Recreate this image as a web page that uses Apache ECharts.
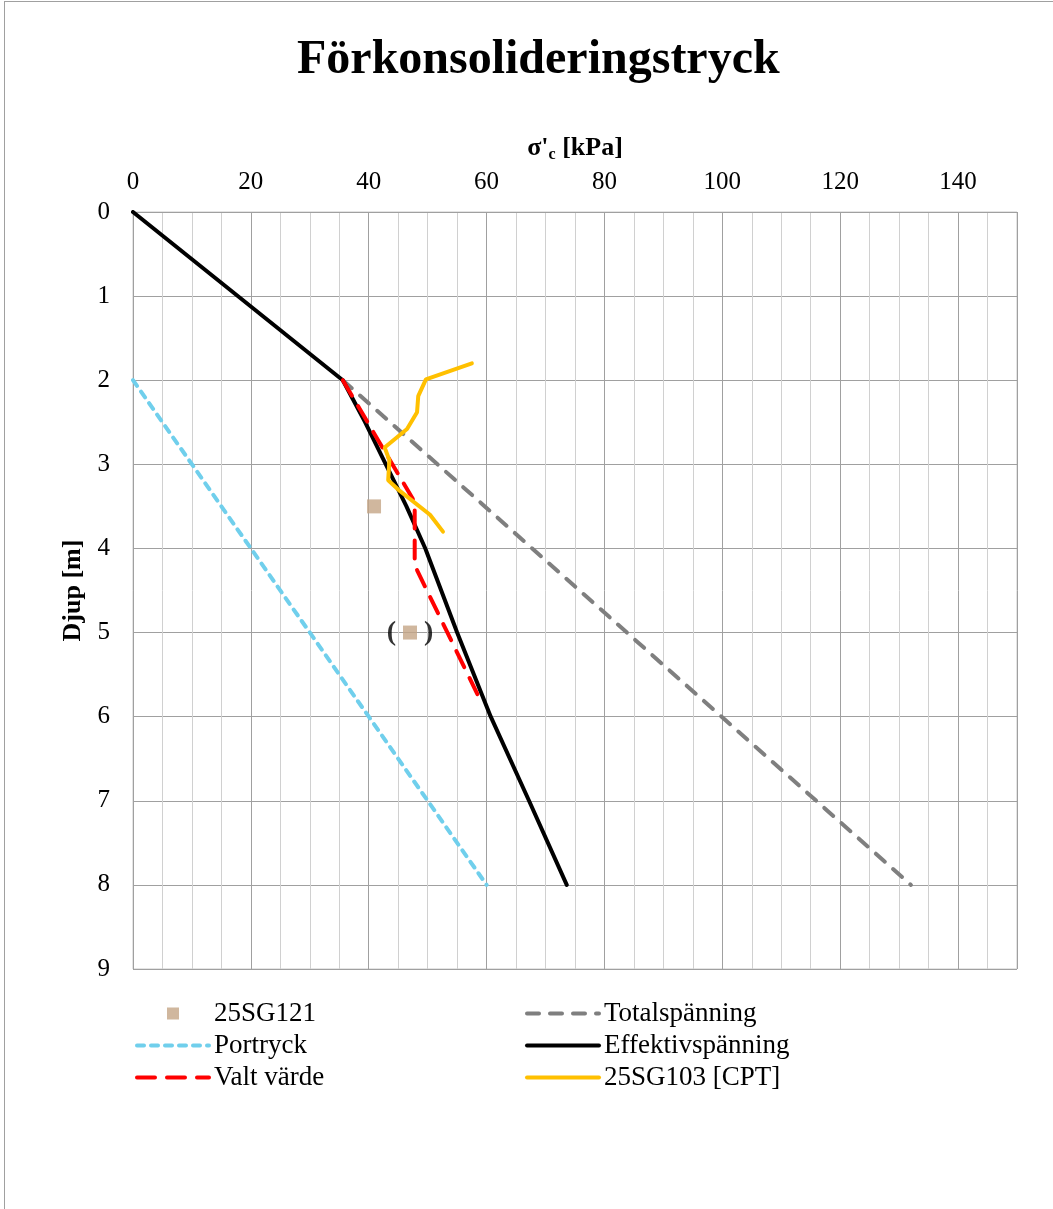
<!DOCTYPE html>
<html>
<head>
<meta charset="utf-8">
<title>Förkonsolideringstryck</title>
<script src="https://cdn.jsdelivr.net/npm/echarts@6/dist/echarts.min.js"></script>
<style>
  html, body { margin: 0; padding: 0; background: #fff; }
  .wrap { position: relative; width: 1053px; height: 1209px; }
  .frame { position: absolute; left: 4px; top: 1px; right: 0; bottom: 0; border-left: 1px solid #a0a0a0; border-top: 1px solid #a0a0a0; pointer-events: none; }
  #chart { width: 1053px; height: 1209px; }
</style>
</head>
<body>
<div class="wrap">
  <div id="chart"></div>
  <div class="frame"></div>
</div>
<script>
// djup [m] och σ'c [kPa]
const effDepth = [0, 2, 2.5, 3, 3.5, 4, 5, 6, 7, 8]
const effValue = [0, 35.6, 39.4, 42.9, 46.4, 49.6, 55.0, 60.7, 67.2, 73.6]

const totDepth = [2, 8]
const totValue = [35.6, 132]

const porDepth = [2, 8]
const porValue = [0, 60]

const valtDepth = [2, 3.45, 4.2, 5.8]
const valtValue = [35.6, 47.8, 47.8, 58.9]

const cptDepth = [1.8, 1.99, 2.19, 2.38, 2.58, 2.8, 2.95, 3.19, 3.3, 3.6, 3.8]
const cptValue = [57.5, 49.7, 48.4, 48.2, 46.5, 42.7, 43.5, 43.3, 45.0, 50.4, 52.6]

const sgDepth = [3.5, 5.0]
const sgValue = [40.9, 47.0]
const sgLabels = ['', '(    )']

const FONT = "'Liberation Serif', 'Times New Roman', serif"

const pairs = (vals, depths) => vals.map((v, i) => [v, depths[i]])

const lineSeries = (name, vals, depths, color, type, z) => ({
  name,
  type: 'line',
  data: pairs(vals, depths),
  symbol: 'none',
  z,
  lineStyle: { color, width: 4, type, cap: 'round' },
  itemStyle: { color }
})

// legendposter för linjer: bara linjen, ingen symbol
const lineItem = (name) => ({ name, itemStyle: { opacity: 0 } })

const legendText = { fontFamily: FONT, fontSize: 27, color: '#000', lineHeight: 27 }

const chart = echarts.init(document.getElementById('chart'))

chart.setOption({
  animation: false,
  backgroundColor: '#fff',
  title: {
    text: 'Förkonsolideringstryck',
    left: 292,
    top: 32,
    textStyle: { fontFamily: FONT, fontSize: 48, fontWeight: 'bold', color: '#000' }
  },
  grid: {
    left: 133, right: 36, top: 212, bottom: 240,
    show: true, borderColor: '#c8c8c8', borderWidth: 1
  },
  legend: [
    {
      orient: 'vertical',
      left: 135, top: 1000, padding: 0,
      itemWidth: 72, itemHeight: 12, itemGap: 5,
      lineStyle: { width: 4 },
      textStyle: legendText,
      data: [
        { name: '25SG121', icon: 'path://M0,0h10v10h-10z' },
        lineItem('Portryck'),
        lineItem('Valt värde')
      ]
    },
    {
      orient: 'vertical',
      left: 525, top: 1000, padding: 0,
      itemWidth: 72, itemHeight: 12, itemGap: 5,
      lineStyle: { width: 4 },
      textStyle: legendText,
      data: [lineItem('Totalspänning'), lineItem('Effektivspänning'), lineItem('25SG103 [CPT]')]
    }
  ],
  xAxis: {
    type: 'value',
    position: 'top',
    min: 0, max: 150, interval: 20,
    name: "{b|σ'}{s|c}{b| [kPa]}",
    nameLocation: 'middle',
    nameGap: 49,
    nameTextStyle: {
      rich: {
        b: { fontFamily: FONT, fontSize: 26, fontWeight: 'bold', color: '#000' },
        s: { fontFamily: FONT, fontSize: 16, fontWeight: 'bold', color: '#000', padding: [14, 0, 0, 0] }
      }
    },
    axisLine: { show: true, lineStyle: { color: '#a0a0a0', width: 1 } },
    axisTick: { show: false },
    axisLabel: { margin: 17, fontFamily: FONT, fontSize: 25, color: '#000', showMaxLabel: false },
    splitLine: { show: true, lineStyle: { color: '#a0a0a0', width: 1 } },
    minorTick: { show: false, splitNumber: 4 },
    minorSplitLine: { show: true, lineStyle: { color: '#d0d0d0', width: 1 } }
  },
  yAxis: {
    type: 'value',
    inverse: true,
    min: 0, max: 9, interval: 1,
    name: 'Djup [m]',
    nameLocation: 'middle',
    nameGap: 42,
    nameRotate: 90,
    nameTextStyle: { fontFamily: FONT, fontSize: 26, fontWeight: 'bold', color: '#000' },
    axisLine: { show: true, lineStyle: { color: '#a0a0a0', width: 1 } },
    axisTick: { show: false },
    axisLabel: { margin: 23, fontFamily: FONT, fontSize: 25, color: '#000' },
    splitLine: { show: true, lineStyle: { color: '#a0a0a0', width: 1 } }
  },
  series: [
    lineSeries('Portryck', porValue, porDepth, '#70cfec', [7, 7], 2),
    lineSeries('Totalspänning', totValue, totDepth, '#7f7f7f', [12, 11], 3),
    lineSeries('Effektivspänning', effValue, effDepth, '#000000', 'solid', 4),
    lineSeries('Valt värde', valtValue, valtDepth, '#ff0000', [18, 12], 5),
    lineSeries('25SG103 [CPT]', cptValue, cptDepth, '#ffc000', 'solid', 6),
    {
      name: '25SG121',
      type: 'scatter',
      symbol: 'rect',
      symbolSize: 14,
      z: 7,
      itemStyle: { color: '#c4a586' },
      data: pairs(sgValue, sgDepth).map((p, i) => ({
        value: p,
        label: {
          show: sgLabels[i] !== '',
          position: 'inside',
          formatter: sgLabels[i],
          fontFamily: FONT,
          fontSize: 28,
          fontWeight: 'bold',
          color: '#000'
        }
      }))
    }
  ]
})

window.addEventListener('resize', () => chart.resize())
</script>
</body>
</html>
